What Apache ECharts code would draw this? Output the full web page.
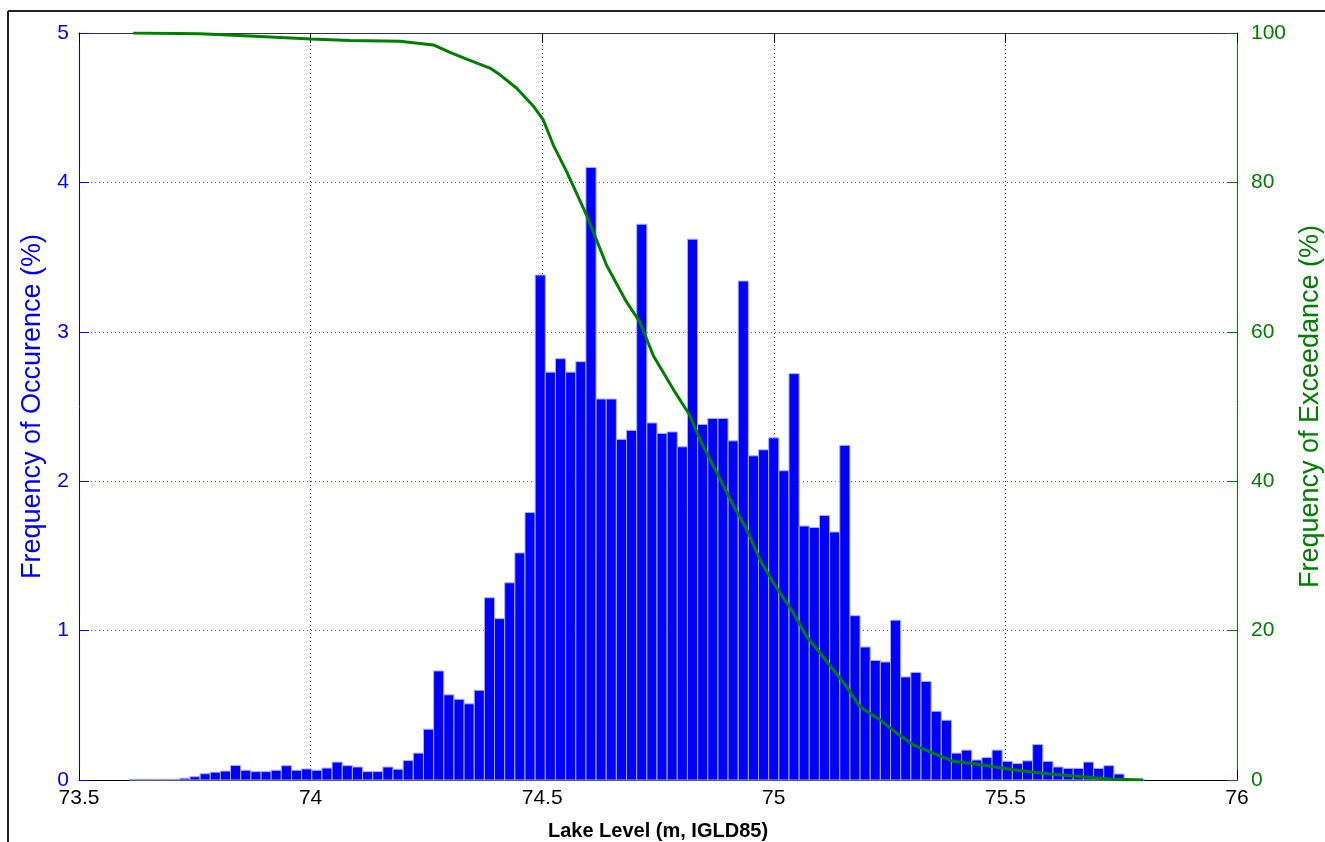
<!DOCTYPE html>
<html>
<head>
<meta charset="utf-8">
<script src="https://cdn.jsdelivr.net/npm/echarts@6/dist/echarts.min.js"></script>
<style>
  html, body { margin: 0; padding: 0; background: #fff; }
  #chart { width: 1325px; height: 842px; }
</style>
</head>
<body>
<div id="chart"></div>
<script>
// histogram bins (lake level, m)
const binStart = 73.608;
const binWidth = 0.02192;
// frequency of occurence per bin (%)
const freqOccurence = [
  0.005, 0.005, 0.005, 0.005, 0.005, 0.012, 0.022, 0.042, 0.052, 0.06,
  0.097, 0.065, 0.056, 0.056, 0.065, 0.096, 0.065, 0.074, 0.065, 0.08,
  0.12, 0.096, 0.087, 0.056, 0.056, 0.087, 0.072, 0.13, 0.18, 0.34,
  0.73, 0.57, 0.54, 0.51, 0.60, 1.22, 1.08, 1.32, 1.52, 1.79,
  3.38, 2.73, 2.82, 2.73, 2.80, 4.10, 2.55, 2.55, 2.28, 2.34,
  3.72, 2.39, 2.32, 2.33, 2.23, 3.62, 2.38, 2.42, 2.42, 2.27,
  3.34, 2.17, 2.21, 2.29, 2.07, 2.72, 1.70, 1.69, 1.77, 1.66,
  2.24, 1.10, 0.89, 0.80, 0.79, 1.07, 0.69, 0.72, 0.66, 0.46,
  0.40, 0.18, 0.20, 0.134, 0.15, 0.20, 0.125, 0.11, 0.128, 0.237,
  0.125, 0.087, 0.078, 0.078, 0.12, 0.078, 0.096, 0.04, 0.005, 0.005
];
// exceedance curve
const exceedLevel = [
  73.617, 73.761, 73.869, 74.001, 74.085, 74.193, 74.265, 74.301, 74.337, 74.387,
  74.409, 74.445, 74.481, 74.502, 74.524, 74.553, 74.596, 74.625, 74.639, 74.682,
  74.711, 74.740, 74.783, 74.819, 74.841, 74.884, 74.913, 74.941, 74.970, 74.999,
  75.042, 75.071, 75.100, 75.128, 75.157, 75.186, 75.229, 75.265, 75.301, 75.344,
  75.387, 75.452, 75.524, 75.596, 75.668, 75.726, 75.797
];
const exceedPct = [
  100, 99.9, 99.6, 99.2, 99.0, 98.9, 98.4, 97.4, 96.5, 95.3,
  94.4, 92.6, 90.2, 88.4, 85.0, 81.4, 75.6, 71.1, 68.9, 64.0,
  61.3, 56.8, 52.3, 48.8, 45.5, 40.3, 36.7, 33.6, 29.5, 26.4,
  22.4, 19.2, 17.0, 14.8, 12.5, 9.8, 8.05, 6.3, 4.7, 3.6,
  2.5, 2.0, 1.3, 0.8, 0.44, 0.13, 0
];

const xTicks = { min: 73.5, max: 76, interval: 0.5 };

const barData = freqOccurence.map((v, i) => [binStart + i * binWidth, binStart + (i + 1) * binWidth, v]);
const lineData = exceedLevel.map((x, i) => [x, exceedPct[i]]);

const font = 'Liberation Sans, Arial, sans-serif';
const blue = '#0000ff';
const green = '#008000';

let myecharts = echarts.init(document.getElementById('chart'));
myecharts.setOption({
  animation: false,
  backgroundColor: '#fff',
  textStyle: { fontFamily: font },
  grid: { left: 79, right: 88, top: 33, bottom: 62, containLabel: false, outerBoundsMode: 'none' },
  graphic: [
    { type: 'line', shape: { x1: 8, y1: 11, x2: 1325, y2: 11 }, style: { stroke: '#222', lineWidth: 2 } },
    { type: 'line', shape: { x1: 8, y1: 11, x2: 8, y2: 842 }, style: { stroke: '#222', lineWidth: 2 } }
  ],
  xAxis: [
    {
      type: 'value',
      min: xTicks.min,
      max: xTicks.max,
      interval: xTicks.interval,
      name: 'Lake Level (m, IGLD85)',
      nameLocation: 'middle',
      nameGap: 41,
      nameTextStyle: { color: '#000', fontSize: 20, fontWeight: 'bold', fontFamily: font },
      axisLine: { onZero: false, lineStyle: { color: '#000', width: 1 } },
      axisTick: { inside: true, length: 10, lineStyle: { color: '#000' } },
      axisLabel: { color: '#000', fontSize: 21, margin: 8, fontFamily: font },
      splitLine: { show: true, lineStyle: { color: '#333', type: [1, 3], width: 1 } }
    },
    {
      type: 'value',
      position: 'top',
      min: xTicks.min,
      max: xTicks.max,
      interval: xTicks.interval,
      axisLine: { onZero: false, lineStyle: { color: '#333', width: 1 } },
      axisTick: { inside: true, length: 10, lineStyle: { color: '#000' } },
      axisLabel: { show: false },
      splitLine: { show: false }
    }
  ],
  yAxis: [
    {
      type: 'value',
      min: 0,
      max: 5,
      interval: 1,
      name: 'Frequency of Occurence (%)',
      nameLocation: 'middle',
      nameGap: 29,
      nameTextStyle: { color: blue, fontSize: 27, fontFamily: font },
      axisLine: { show: true, lineStyle: { color: blue, width: 1 } },
      axisTick: { show: true, inside: true, length: 10, lineStyle: { color: blue } },
      axisLabel: { color: blue, fontSize: 21, margin: 10, fontFamily: font },
      splitLine: { show: true, lineStyle: { color: '#4a4aff', type: [1, 3], width: 1 } }
    },
    {
      type: 'value',
      position: 'right',
      min: 0,
      max: 100,
      interval: 20,
      name: 'Frequency of Exceedance (%)',
      nameLocation: 'middle',
      nameGap: 59,
      nameTextStyle: { color: green, fontSize: 27, fontFamily: font },
      axisLine: { show: true, lineStyle: { color: green, width: 1 } },
      axisTick: { show: true, inside: true, length: 10, lineStyle: { color: green } },
      axisLabel: { color: green, fontSize: 21, margin: 14, fontFamily: font },
      splitLine: { show: false }
    }
  ],
  series: [
    {
      type: 'custom',
      xAxisIndex: 0,
      yAxisIndex: 0,
      data: barData,
      encode: { x: [0, 1], y: 2 },
      renderItem: function (params, api) {
        let p0 = api.coord([api.value(0), 0]);
        let p1 = api.coord([api.value(1), api.value(2)]);
        return {
          type: 'rect',
          shape: { x: p0[0], y: p1[1], width: p1[0] - p0[0], height: p0[1] - p1[1] },
          style: { fill: blue, stroke: '#a8b0ff', lineWidth: 1 }
        };
      },
      z: 2
    },
    {
      type: 'line',
      xAxisIndex: 0,
      yAxisIndex: 1,
      data: lineData,
      showSymbol: false,
      lineStyle: { color: green, width: 3 },
      itemStyle: { color: green },
      z: 3
    }
  ]
});
</script>
</body>
</html>
